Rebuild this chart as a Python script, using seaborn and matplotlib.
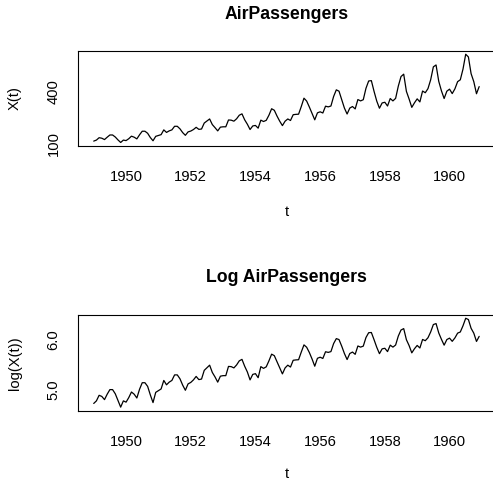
import numpy as np
import pandas as pd
import matplotlib
matplotlib.use("Agg")
import matplotlib.pyplot as plt
import seaborn as sns

# Monthly values 1949-1960 (AirPassengers)
y1949 = [112, 118, 132, 129, 121, 135, 148, 148, 136, 119, 104, 118]
y1950 = [115, 126, 141, 135, 125, 149, 170, 170, 158, 133, 114, 140]
y1951 = [145, 150, 178, 163, 172, 178, 199, 199, 184, 162, 146, 166]
y1952 = [171, 180, 193, 181, 183, 218, 230, 242, 209, 191, 172, 194]
y1953 = [196, 196, 236, 235, 229, 243, 264, 272, 237, 211, 180, 201]
y1954 = [204, 188, 235, 227, 234, 264, 302, 293, 259, 229, 203, 229]
y1955 = [242, 233, 267, 269, 270, 315, 364, 347, 312, 274, 237, 278]
y1956 = [284, 277, 317, 313, 318, 374, 413, 405, 355, 306, 271, 306]
y1957 = [315, 301, 356, 348, 355, 422, 465, 467, 404, 347, 305, 336]
y1958 = [340, 318, 362, 348, 363, 435, 491, 505, 404, 359, 310, 337]
y1959 = [360, 342, 406, 396, 420, 472, 548, 559, 463, 407, 362, 405]
y1960 = [417, 391, 419, 461, 472, 535, 622, 606, 508, 461, 390, 432]

years = list(range(1949, 1961))
passengers = (y1949 + y1950 + y1951 + y1952 + y1953 + y1954 +
              y1955 + y1956 + y1957 + y1958 + y1959 + y1960)

x_ticks = [1950, 1952, 1954, 1956, 1958, 1960]
top_yticks = [100, 200, 300, 400, 500, 600]
top_ylabels = ["100", "", "", "400", "", ""]
bot_yticks = [5.0, 5.5, 6.0]
bot_ylabels = ["5.0", "", "6.0"]

t = np.array([y + m / 12 for y in years for m in range(12)])
df = pd.DataFrame({"t": t, "X": passengers})
df["logX"] = np.log(df["X"])

sns.set_style("white")
plt.rcParams["font.family"] = ["Liberation Sans", "DejaVu Sans"]
plt.rcParams["text.color"] = "black"
plt.rcParams["axes.labelcolor"] = "black"

W, H = 493, 482
fig = plt.figure(figsize=(W / 100, H / 100), dpi=100)

def rlim(v):
    lo, hi = float(np.min(v)), float(np.max(v))
    d = (hi - lo) * 0.04
    return lo - d, hi + d

left_px, right_px = 78.3, 494.6
# (axes top px, axes bottom px, title centre px, xlabel centre px, ...)
panels = [
    (50.7, 146.0, 14.0, 212.0, "X", "AirPassengers", "X(t)", top_yticks, top_ylabels),
    (314.7, 410.7, 277.7, 474.0, "logX", "Log AirPassengers", "log(X(t))", bot_yticks, bot_ylabels),
]

fs = 10.6
for top_px, bot_px, title_px, xl_px, col, title, ylab, yt, ytl in panels:
    ax = fig.add_axes([left_px / W, 1 - bot_px / H,
                       (right_px - left_px) / W, (bot_px - top_px) / H])
    sns.lineplot(data=df, x="t", y=col, ax=ax, color="black", linewidth=0.9)
    ax.set_xlim(*rlim(df["t"]))
    ax.set_ylim(*rlim(df[col]))
    ax.set_xticks(x_ticks)
    ax.set_xticklabels([str(v) for v in x_ticks], fontsize=fs)
    ax.set_yticks(yt)
    ax.set_yticklabels(ytl, fontsize=fs, rotation=90, va="center")
    ax.tick_params(axis="both", direction="out", length=6.7, width=0.8,
                   color="black", labelcolor="black")
    ax.tick_params(axis="x", pad=10.5)
    ax.tick_params(axis="y", pad=6)
    for s in ax.spines.values():
        s.set_color("black")
        s.set_linewidth(0.8)
    ax.spines["right"].set_visible(False)
    hpx = bot_px - top_px
    wpx = right_px - left_px
    ax.set_title(title, fontsize=12.7, fontweight="bold", color="black",
                 y=1 + (top_px - title_px) / hpx, pad=0, va="center")
    ax.set_xlabel("t", fontsize=fs, va="center", color="black")
    ax.xaxis.set_label_coords(0.5, -(xl_px - bot_px) / hpx)
    ax.set_ylabel(ylab, fontsize=fs, va="center", ha="center", color="black")
    ax.yaxis.set_label_coords(-(left_px - 15) / wpx, 0.5)

fig.savefig("out.png", dpi=100)
